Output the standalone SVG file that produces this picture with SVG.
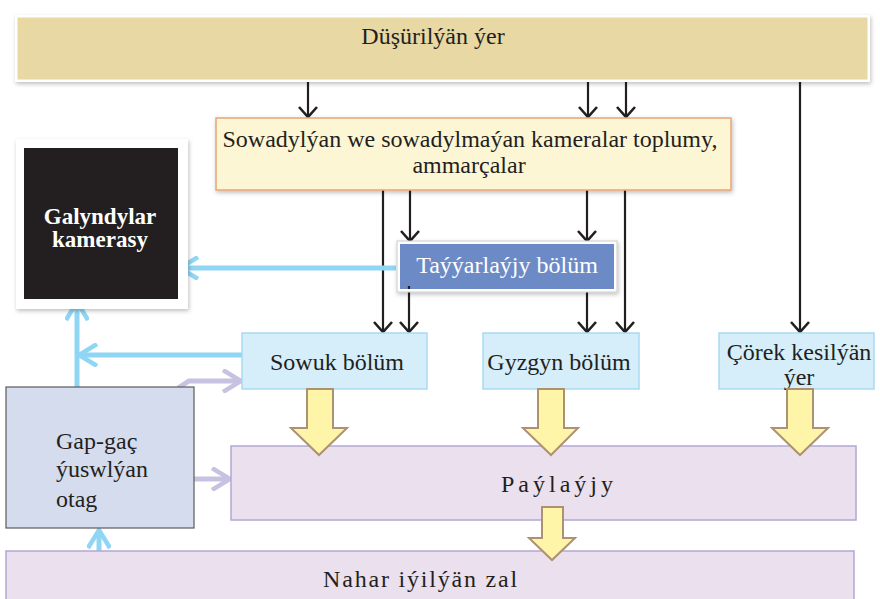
<svg xmlns="http://www.w3.org/2000/svg" width="880" height="599" viewBox="0 0 880 599" font-family="'Liberation Serif', 'DejaVu Serif', serif">
<defs>
<filter id="sh" x="-10%" y="-10%" width="120%" height="130%"><feDropShadow dx="1" dy="2" stdDeviation="2" flood-color="#000" flood-opacity="0.25"/></filter>
<marker id="ab" viewBox="0 0 20 20" refX="18" refY="10" markerWidth="20" markerHeight="20" markerUnits="userSpaceOnUse" orient="auto">
<path d="M8,1 L18,10 L8,19" fill="none" stroke="#231f20" stroke-width="2.6"/></marker>
<marker id="ac" viewBox="0 0 24 24" refX="21" refY="12" markerWidth="24" markerHeight="24" markerUnits="userSpaceOnUse" orient="auto">
<path d="M3,1 L21,12 L3,23" fill="none" stroke="#8fd6f5" stroke-width="4.5"/></marker>
<marker id="al" viewBox="0 0 24 24" refX="21" refY="12" markerWidth="24" markerHeight="24" markerUnits="userSpaceOnUse" orient="auto">
<path d="M3,1 L21,12 L3,23" fill="none" stroke="#c8c2e2" stroke-width="4.5"/></marker>
</defs>
<style>
text{fill:#231f20;font-size:24px}
.k{fill:none;stroke:#231f20;stroke-width:2.2}
.c{fill:none;stroke:#8fd6f5;stroke-width:5}
.l{fill:none;stroke:#c8c2e2;stroke-width:5}
.y{fill:#fff5a8;stroke:#ad9272;stroke-width:2}
.lb{fill:#d6eef9;stroke:#a8daf2;stroke-width:1.5}
.pu{fill:#ebe0ee;stroke:#b4a6d6;stroke-width:1.5}
</style>
<rect width="880" height="599" fill="#fff"/>

<g id="connectors">
<line class="k" x1="308" y1="80" x2="308" y2="117" marker-end="url(#ab)"/>
<line class="k" x1="588" y1="80" x2="588" y2="117" marker-end="url(#ab)"/>
<line class="k" x1="626" y1="80" x2="626" y2="117" marker-end="url(#ab)"/>
<line class="k" x1="800" y1="80" x2="800" y2="332" marker-end="url(#ab)"/>
<line class="k" x1="383" y1="190" x2="383" y2="332" marker-end="url(#ab)"/>
<line class="k" x1="410" y1="190" x2="410" y2="241" marker-end="url(#ab)"/>
<line class="k" x1="587" y1="190" x2="587" y2="241" marker-end="url(#ab)"/>
<line class="k" x1="625" y1="190" x2="625" y2="332" marker-end="url(#ab)"/>
<line class="k" x1="409" y1="286" x2="409" y2="332" marker-end="url(#ab)"/>
<line class="k" x1="587" y1="292" x2="587" y2="332" marker-end="url(#ab)"/>
<line class="c" x1="396" y1="268" x2="180" y2="268" marker-end="url(#ac)"/>
<line class="c" x1="77" y1="387" x2="77" y2="302" marker-end="url(#ac)"/>
<line class="c" x1="242" y1="355" x2="79" y2="355" marker-end="url(#ac)"/>
<line class="c" x1="99" y1="562" x2="99" y2="530" marker-end="url(#ac)"/>
<polyline class="l" points="178,388 189,381 241,381" marker-end="url(#al)"/>
<line class="l" x1="194" y1="479" x2="230" y2="479" marker-end="url(#al)"/>
</g>

<g id="top">
<rect x="15" y="15" width="855" height="67" fill="#fff" filter="url(#sh)"/>
<rect x="17.500" y="17.500" width="850" height="62" fill="#e8d8a4"/>
<text x="433" y="44" text-anchor="middle">Düşürilýän ýer</text>
</g>

<g id="sowadylyan">
<rect x="216" y="118" width="515" height="72" fill="#fdf6d4" stroke="#e9a478" stroke-width="1.5" filter="url(#sh)"/>
<text x="470" y="147" text-anchor="middle">Sowadylýan we sowadylmaýan kameralar toplumy,</text>
<text x="469" y="173" text-anchor="middle">ammarçalar</text>
</g>

<g id="galyndylar">
<rect x="16" y="139" width="172" height="170" fill="#fff" filter="url(#sh)"/>
<rect x="24" y="148" width="154" height="151" fill="#231f20"/>
<text x="100" y="224" font-weight="bold" text-anchor="middle" style="fill:#fff;font-size:23px">Galyndylar</text>
<text x="100" y="247" font-weight="bold" text-anchor="middle" style="fill:#fff;font-size:23px">kamerasy</text>
</g>

<g id="tayyarlayjy">
<rect x="397" y="241" width="220" height="51" fill="#fff" stroke="#ccc" stroke-width="1" filter="url(#sh)"/>
<rect x="400" y="244" width="214" height="45" fill="#6c8bc6"/>
<line class="k" x1="409" y1="286" x2="409" y2="289"/>
<text x="507" y="273" text-anchor="middle" style="fill:#fff">Taýýarlaýjy bölüm</text>
</g>

<g id="sowuk">
<rect class="lb" x="242" y="333" width="185" height="56"/>
<text x="337" y="370" text-anchor="middle">Sowuk bölüm</text>
</g>

<g id="gyzgyn">
<rect class="lb" x="483" y="333" width="156" height="56"/>
<text x="559" y="370" text-anchor="middle">Gyzgyn bölüm</text>
</g>

<g id="corek">
<rect class="lb" x="719" y="333" width="155" height="56"/>
<text x="799" y="360" text-anchor="middle">Çörek kesilýän</text>
<text x="799" y="385" text-anchor="middle">ýer</text>
</g>

<g id="paylayjy">
<rect class="pu" x="231" y="446" width="625" height="74"/>
<text x="559" y="492" letter-spacing="4" text-anchor="middle">Paýlaýjy</text>
</g>

<g id="nahar">
<rect class="pu" x="6" y="551" width="848" height="60"/>
<text x="421" y="587" letter-spacing="1.800" text-anchor="middle">Nahar iýilýän zal</text>
</g>

<g id="gapgac">
<rect x="6" y="387" width="188" height="141" fill="#d4dcee" stroke="#5a5a5a" stroke-width="1.2"/>
<text x="56" y="449">Gap-gaç</text>
<text x="56" y="477">ýuswlýan</text>
<text x="56" y="507">otag</text>
</g>

<g id="block-arrows">
<path class="y" d="M307,389 L333,389 L333,428 L347,428 L319,455 L291,428 L307,428 Z"/>
<path class="y" d="M538,389 L564,389 L564,428 L578,428 L551,455 L523,428 L538,428 Z"/>
<path class="y" d="M787,389 L813,389 L813,428 L828,428 L800,455 L772,428 L787,428 Z"/>
<path class="y" d="M542,507 L563,507 L563,538 L575,538 L552,560 L529,538 L542,538 Z"/>
</g>
</svg>
